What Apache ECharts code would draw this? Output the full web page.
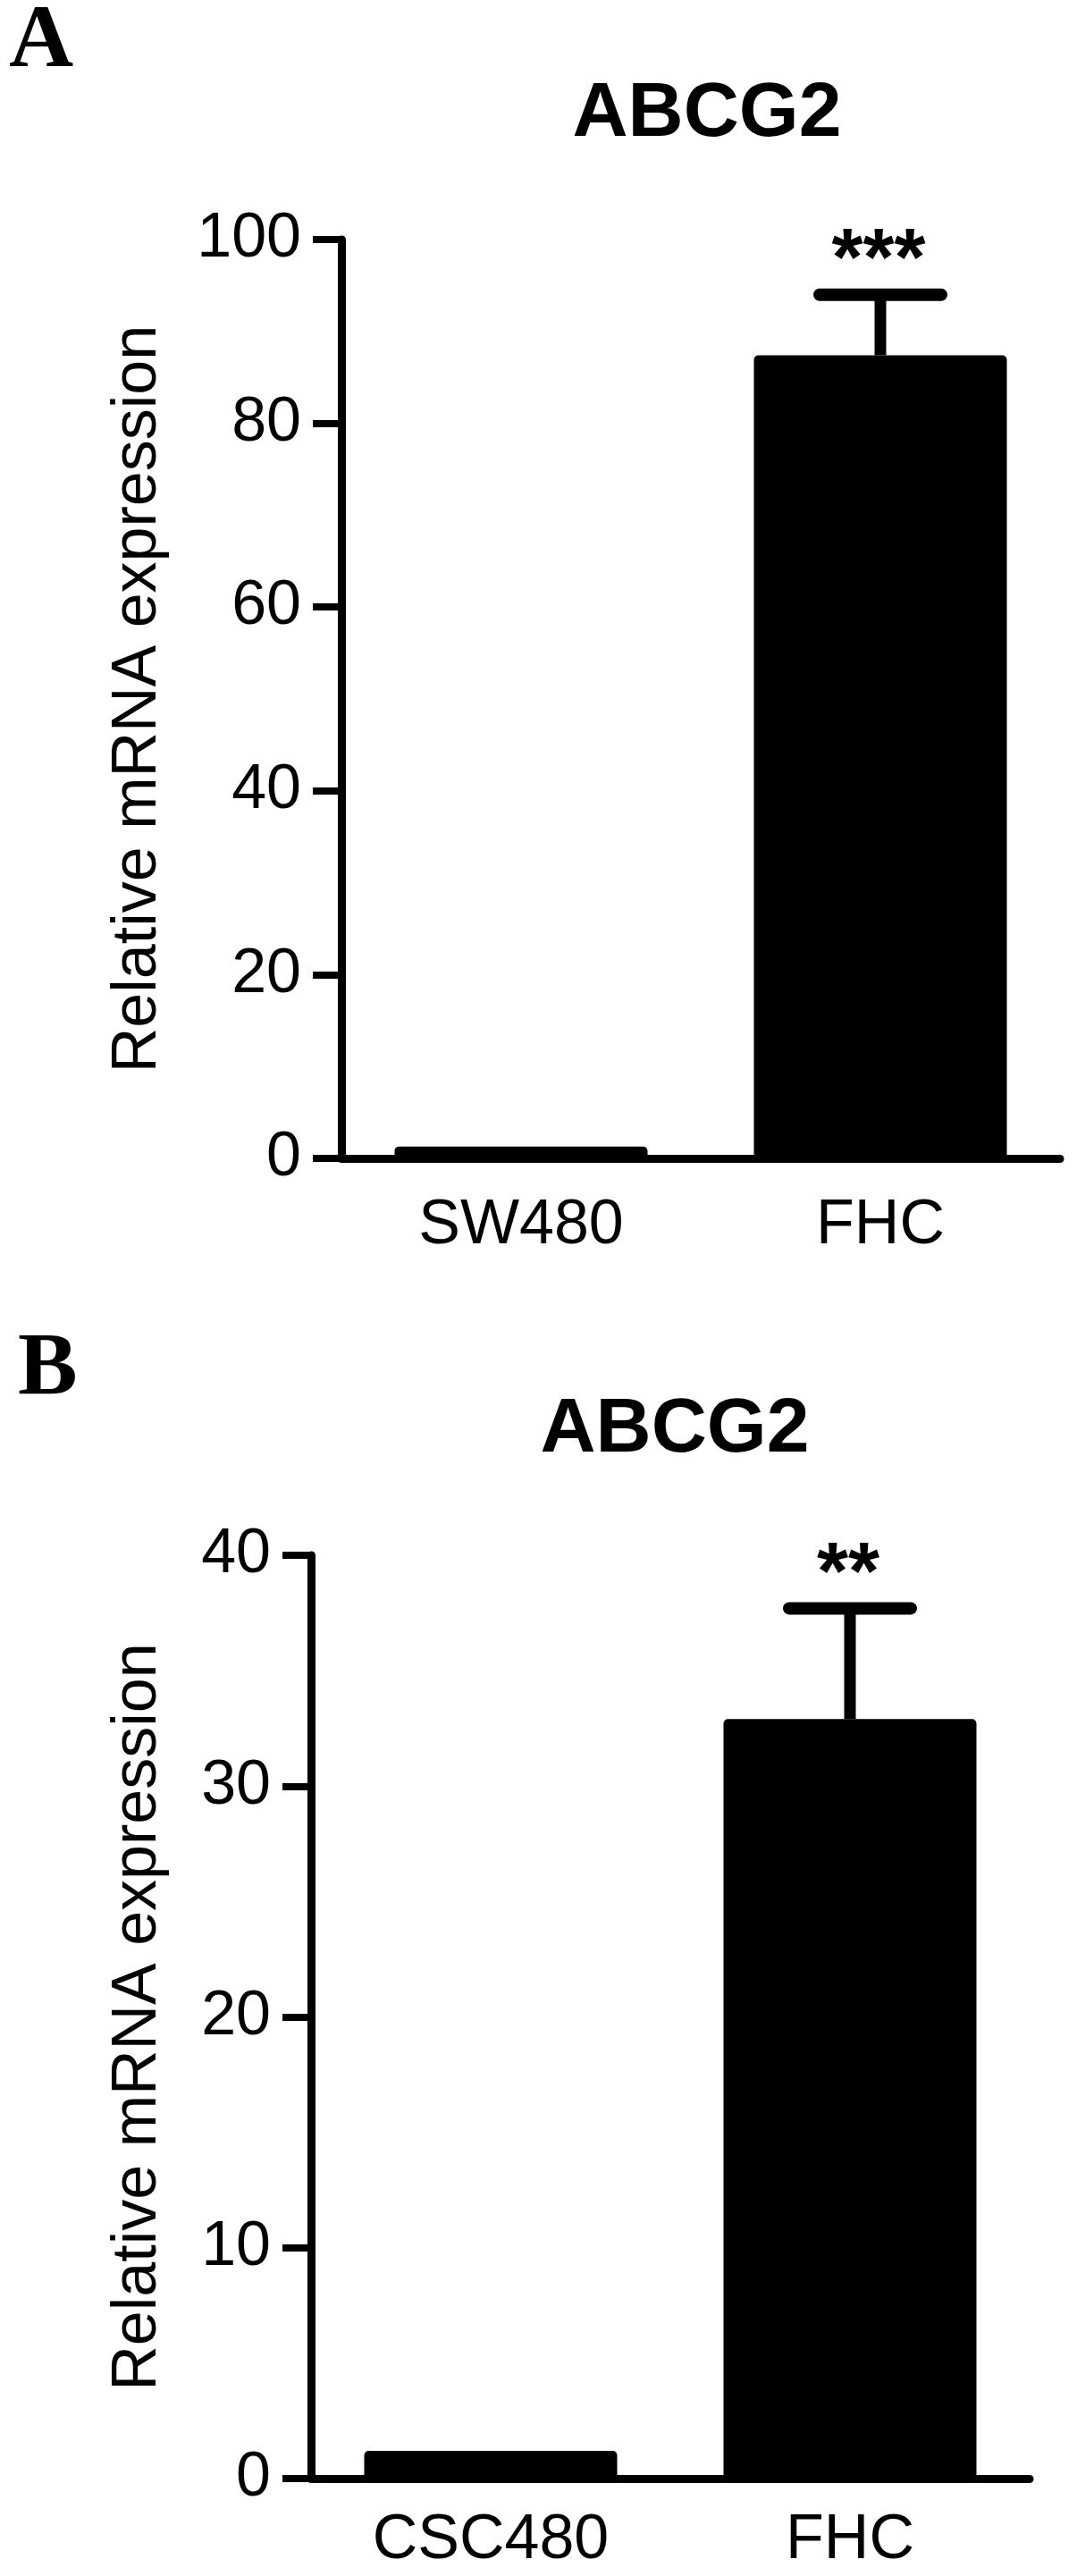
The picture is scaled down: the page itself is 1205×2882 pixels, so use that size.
<!DOCTYPE html>
<html>
<head>
<meta charset="utf-8">
<script src="https://cdn.jsdelivr.net/npm/echarts@6/dist/echarts.min.js"></script>
<style>
html,body{margin:0;padding:0;background:#fff;}
#c{width:1205px;height:2882px;}
</style>
</head>
<body>
<div id="c"></div>
<script>
// ---- Data ----
const panelLetters = ['A', 'B'];
const titleText = 'ABCG2';
const yAxisTitle = 'Relative mRNA expression';

const categoriesA = ['SW480', 'FHC'];
const meansA = [1.3, 87.4];
const errorsA = [0, 6.6];
const starsA = ['', '***'];
const yTicksA = { min: 0, max: 100, interval: 20 };

const categoriesB = ['CSC480', 'FHC'];
const meansB = [1.2, 32.9];
const errorsB = [0, 4.8];
const starsB = ['', '**'];
const yTicksB = { min: 0, max: 40, interval: 10 };

// ---- Styling ----
const FONT = "'Liberation Sans', Arial, Helvetica, sans-serif";
const SERIF = "'Liberation Serif', 'Times New Roman', serif";
const BLACK = '#000';

function errData(means, errs) {
  return means.map((m, i) => [i, m, errs[i]]);
}

function makeErrRender(stars) {
  return function (params, api) {
    const i = api.value(0), m = api.value(1), e = api.value(2);
    const star = stars[params.dataIndex] || '';
    const base = api.coord([i, m]);
    const top = api.coord([i, m + e]);
    const children = [];
    if (e > 0) {
      children.push({
        type: 'line', shape: { x1: base[0], y1: base[1], x2: top[0], y2: top[1] },
        style: { stroke: BLACK, lineWidth: 13 }
      });
      children.push({
        type: 'line', shape: { x1: top[0] - 68, y1: top[1], x2: top[0] + 68, y2: top[1] },
        style: { stroke: BLACK, lineWidth: 14, lineCap: 'round' }
      });
    }
    if (star) {
      children.push({
        type: 'text', x: top[0] - 2, y: top[1] - 35,
        style: { text: star, align: 'center', verticalAlign: 'middle',
                 fontSize: 90, fontWeight: 'bold', fontFamily: FONT, fill: BLACK }
      });
    }
    return { type: 'group', children };
  };
}

function xAxisCfg(gridIndex, cats, margin) {
  return {
    type: 'category', gridIndex, data: cats,
    axisLine: { lineStyle: { color: BLACK, width: 9 } },
    axisTick: { alignWithLabel: true, length: 30, lineStyle: { color: BLACK, width: 5 } },
    axisLabel: { color: BLACK, fontFamily: FONT, fontSize: 70, lineHeight: 70, margin },
    splitLine: { show: false }
  };
}
function yAxisCfg(gridIndex, t, nameGap) {
  return {
    type: 'value', gridIndex, min: t.min, max: t.max, interval: t.interval,
    name: yAxisTitle, nameLocation: 'middle', nameRotate: 90, nameGap,
    nameTextStyle: { color: BLACK, fontFamily: FONT, fontSize: 70 },
    axisLine: { show: true, lineStyle: { color: BLACK, width: 9 } },
    axisTick: { show: true, length: 32, lineStyle: { color: BLACK, width: 8 } },
    axisLabel: { color: BLACK, fontFamily: FONT, fontSize: 70, margin: 45 },
    splitLine: { show: false }
  };
}

const chart = echarts.init(document.getElementById('c'), null, { renderer: 'canvas' });
chart.setOption({
  animation: false,
  backgroundColor: '#fff',
  grid: [
    { left: 382, top: 268, width: 804, height: 1028 },
    { left: 348, top: 1740, width: 804, height: 1033 }
  ],
  xAxis: [ xAxisCfg(0, categoriesA, 41), xAxisCfg(1, categoriesB, 35) ],
  yAxis: [ yAxisCfg(0, yTicksA, 192), yAxisCfg(1, yTicksB, 158) ],
  graphic: [
    { type: 'text', x: 10, y: 48, style: { text: panelLetters[0], verticalAlign: 'middle', fontSize: 100, fontWeight: 'bold', fontFamily: SERIF, fill: BLACK } },
    { type: 'text', x: 20, y: 1533, style: { text: panelLetters[1], verticalAlign: 'middle', fontSize: 100, fontWeight: 'bold', fontFamily: SERIF, fill: BLACK } },
    { type: 'text', x: 791, y: 128, style: { text: titleText, align: 'center', verticalAlign: 'middle', fontSize: 86, fontWeight: 'bold', fontFamily: FONT, fill: BLACK } },
    { type: 'text', x: 755, y: 1600, style: { text: titleText, align: 'center', verticalAlign: 'middle', fontSize: 86, fontWeight: 'bold', fontFamily: FONT, fill: BLACK } }
  ],
  series: [
    { type: 'bar', xAxisIndex: 0, yAxisIndex: 0, data: meansA, barWidth: 283,
      itemStyle: { color: BLACK, borderRadius: [5, 5, 0, 0] }, z: 2 },
    { type: 'custom', xAxisIndex: 0, yAxisIndex: 0, data: errData(meansA, errorsA),
      renderItem: makeErrRender(starsA), z: 3 },
    { type: 'bar', xAxisIndex: 1, yAxisIndex: 1, data: meansB, barWidth: 283,
      itemStyle: { color: BLACK, borderRadius: [5, 5, 0, 0] }, z: 2 },
    { type: 'custom', xAxisIndex: 1, yAxisIndex: 1, data: errData(meansB, errorsB),
      renderItem: makeErrRender(starsB), z: 3 }
  ]
});
</script>
</body>
</html>
